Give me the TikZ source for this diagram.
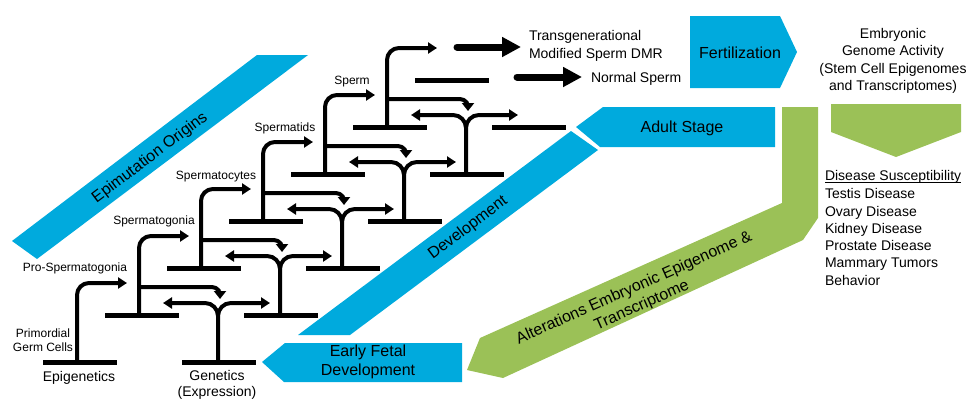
\documentclass[tikz,border=0pt]{standalone}
\usepackage{fontspec}
\setmainfont{Liberation Sans}
\usetikzlibrary{arrows.meta}
\definecolor{bandblue}{RGB}{0,170,221}
\definecolor{bandgreen}{RGB}{155,193,87}
\begin{document}
\begin{tikzpicture}[x=1pt,y=-1pt,
  every node/.style={inner sep=0pt, outer sep=0pt},
  bar/.style={line width=5pt},
  stem/.style={line width=4pt, -{Triangle[length=9pt,width=11pt]}},
  drop/.style={line width=4pt, -{Triangle[length=8pt,width=12pt]}},
  fat/.style={line width=7pt, line cap=round, -{Triangle[length=19pt,width=19pt]}},
  lab/.style={font=\fontsize{12}{14}\selectfont},
  txt/.style={font=\fontsize{14}{17.3}\selectfont},
  big/.style={font=\fontsize{16}{19}\selectfont},
  bluefill/.style={fill=bandblue},
  greenfill/.style={fill=bandgreen}]
\useasboundingbox (0,0) rectangle (967,399);

% ---- coloured bands and arrows ----
\fill[bluefill] (12,241) -- (257,55) -- (308,55) -- (37,259) -- cycle;
\fill[bluefill] (298,335) -- (571,131) -- (598,150) -- (350,335) -- cycle;
\fill[bluefill] (576,127) -- (603,107) -- (775,107) -- (775,147) -- (600,147) -- cycle;
\fill[bluefill] (690,16) -- (780,16) -- (797,52) -- (780,88) -- (690,88) -- cycle;
\fill[bluefill] (262,362) -- (285,343) -- (462,343) -- (462,382) -- (284,382) -- cycle;
\fill[greenfill] (782,107) -- (818,107) -- (818,218) -- (803,240) -- (503,378)
  -- (467,370) -- (480,338) -- (782,203) -- cycle;
\fill[greenfill] (831,104) -- (961,104) -- (961,132) -- (896,157) -- (831,132) -- cycle;

% ---- germ-line ladder: epigenetic and genetic steps ----
\foreach \k in {0,...,5} {
  \pgfmathsetmacro\ex{43+62*\k}
  \pgfmathsetmacro\yy{362-47*\k}
  \pgfmathsetmacro\gx{\ex+175}
  \draw[bar] (\ex,\yy) -- ++(74,0);
  \draw[bar] (\ex+139,\yy) -- ++(74,0);
  \draw[stem, rounded corners=12pt] (\ex+34,\yy) -- (\ex+34,\yy-79) -- (\ex+84,\yy-79);
  \ifnum\k>0
    \draw[drop] (\ex+34,\yy-28) -- (\ex+107,\yy-28) to[out=0,in=90] (\ex+115,\yy-16);
  \fi
  \ifnum\k<5
    \draw[stem] (\gx,\yy) -- (\gx,\yy-46) to[out=90,in=0] (\gx-13,\yy-59) -- (\ex+120,\yy-59);
    \draw[stem] (\gx,\yy-46) to[out=90,in=180] (\gx+13,\yy-59) -- (\ex+227,\yy-59);
  \fi
}
\draw[bar] (415,80) -- ++(74,0);

% ---- outcome arrows ----
\coordinate (tgs) at (457,47);
\coordinate (tge) at (521,47);
\coordinate (nss) at (517,77);
\coordinate (nse) at (582,77);
\draw[fat] (tgs) -- (tge);
\draw[fat] (nss) -- (nse);

% ---- stage labels ----
\node[lab, align=center] (pgc) at (43,340) {Primordial\\Germ Cells};
\node[lab] (prosg) at (75,268) {Pro-Spermatogonia};
\node[lab] (sg) at (154,221) {Spermatogonia};
\node[lab] (sc) at (216,177) {Spermatocytes};
\node[lab] (st) at (285,128) {Spermatids};
\node[lab] (sp) at (352,82) {Sperm};
\node[txt] (epi) at (79,378) {Epigenetics};
\node[txt, align=center, font=\fontsize{14}{16.5}\selectfont] (gen) at (217,385) {Genetics\\(Expression)};

% ---- outcome texts ----
\node[txt, align=left, anchor=west] (tg) at (529,46) {Transgenerational\\Modified Sperm DMR};
\node[txt, anchor=west] (ns) at (591,79) {Normal Sperm};
\node[big] (fert) at (740,53) {Fertilization};
\node[txt, align=center] (emb) at (893,61) {Embryonic\\Genome Activity\\(Stem Cell Epigenomes\\and Transcriptomes)};
\node[big] (adult) at (682,128) {Adult Stage};
\node[big, align=center] (efd) at (368,362) {Early Fetal\\Development};
\node[big, rotate=37] (epo) at (150,158) {Epimutation Origins};
\node[big, rotate=37] (dev) at (468,228) {Development};
\node[big, rotate=24, align=center] (alt) at (638,297) {Alterations Embryonic Epigenome \&\\Transcriptome};

% ---- disease list ----
\node[txt, anchor=west] (dis) at (825,177) {Disease Susceptibility};
\draw[line width=1pt] ([yshift=-2pt]dis.base west) -- ([yshift=-2pt]dis.base east);
\node[txt, anchor=west, align=left] (dlist) at (825,237) {Testis Disease\\Ovary Disease\\Kidney Disease\\Prostate Disease\\Mammary Tumors\\Behavior};
\end{tikzpicture}
\end{document}
